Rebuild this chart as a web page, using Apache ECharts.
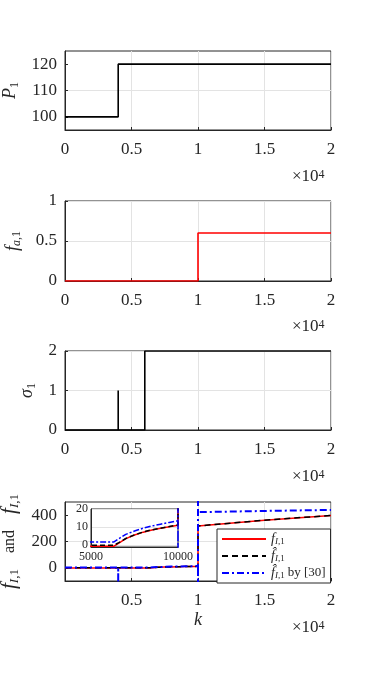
<!DOCTYPE html>
<html>
<head>
<meta charset="utf-8">
<script src="https://cdn.jsdelivr.net/npm/echarts@6/dist/echarts.min.js"></script>
<style>
html,body{margin:0;padding:0;background:#fff;}
#c{width:366px;height:685px;}
</style>
</head>
<body>
<div id="c"></div>
<script>
// ---- data ----
const kP = [0, 4000, 4000, 20000];
const P1 = [100, 100, 120, 120];

const kFa = [0, 10000, 10000, 20000];
const fa1 = [0, 0, 0.6, 0.6];

const kSig = [0, 4000, 4000, 4000, 6000, 6000, 20000];
const sigma1 = [0, 0, 1, 0, 0, 2, 2];

const kF = [0, 6300, 6600, 7000, 7500, 8000, 8500, 9000, 9500, 10000, 10000, 15000, 20000];
const fI1 = [-0.6, -0.6, 1.2, 3.6, 5.6, 7.2, 8.4, 9.3, 10.2, 11.0, 318, 362, 398];
const fhatI1 = [-0.1, -0.1, 1.4, 3.7, 5.7, 7.3, 8.5, 9.4, 10.3, 11.2, 318, 362, 398];

const kB = [0, 4000, 4000, 4000, 6300, 6600, 7000, 7500, 8000, 8500, 9000, 9500, 10000, 10000, 10000, 10000, 15000, 20000];
const fhatI1By30 = [1.7, 1.7, -300, 1.7, 1.7, 3.6, 6.0, 7.8, 9.4, 10.6, 11.6, 12.6, 13.5, -300, 800, 423, 432, 440];

const xTicksMain = [0, 5000, 10000, 15000, 20000];
const xTickLabels = ['0', '0.5', '1', '1.5', '2'];

// ---- helpers ----
const FONT = 'Liberation Serif';
const TXT = '#262626';
const GRIDC = '#e3e3e3';
const NONE = 'rgba(0,0,0,0)';
const pairs = (xs, ys) => xs.map((x, i) => [x, ys[i]]);

const nameRich = {
  it: {fontFamily: FONT, fontStyle: 'italic', fontSize: 18, lineHeight: 20, color: TXT},
  rm: {fontFamily: FONT, fontSize: 17, lineHeight: 20, color: TXT},
  sub: {fontFamily: FONT, fontSize: 12, lineHeight: 10, verticalAlign: 'bottom', color: TXT},
  subi: {fontFamily: FONT, fontStyle: 'italic', fontSize: 12, lineHeight: 10, verticalAlign: 'bottom', color: TXT}
};
const nameRich4 = {
  it: {fontFamily: FONT, fontStyle: 'italic', fontSize: 21, lineHeight: 22, color: TXT},
  rm: {fontFamily: FONT, fontSize: 16, lineHeight: 22, color: TXT},
  sub: {fontFamily: FONT, fontSize: 13, lineHeight: 11, verticalAlign: 'bottom', color: TXT},
  subi: {fontFamily: FONT, fontStyle: 'italic', fontSize: 13, lineHeight: 11, verticalAlign: 'bottom', color: TXT}
};

function xAxisMain(gi, hideZero, name) {
  return {
    gridIndex: gi, type: 'value', min: 0, max: 20000, interval: 5000,
    axisLine: {show: true, onZero: false, lineStyle: {color: TXT, width: 1}},
    axisTick: {show: true, inside: true, length: 3, lineStyle: {color: TXT}},
    axisLabel: {color: TXT, fontFamily: FONT, fontSize: 17, margin: 11,
      formatter: v => { const i = xTicksMain.indexOf(v); if (hideZero && v === 0) return ''; return i >= 0 ? xTickLabels[i] : ''; }},
    splitLine: {show: true, lineStyle: {color: GRIDC, width: 1}},
    name: name || '', nameLocation: 'middle', nameGap: 30,
    nameTextStyle: {fontFamily: FONT, fontStyle: 'italic', fontSize: 18, color: TXT}
  };
}

function yAxisMain(gi, opt) {
  return Object.assign({
    gridIndex: gi, type: 'value',
    axisLine: {show: true, onZero: false, lineStyle: {color: TXT, width: 1}},
    axisTick: {show: true, inside: true, length: 3, lineStyle: {color: TXT}},
    nameLocation: 'middle', nameRotate: 90,
    nameTextStyle: {rich: nameRich}
  }, opt);
}

function sup10(x, y) {
  return {
    type: 'text', x: x, y: y, z: 10,
    style: {
      text: '×10{sup|4}', fill: TXT, fontFamily: FONT, fontSize: 17, verticalAlign: 'middle',
      rich: {sup: {fontFamily: FONT, fontSize: 12, lineHeight: 10, verticalAlign: 'top', fill: TXT}}
    }
  };
}

const legendLabels = {
  'fI1': '{it|f}{subi|I}{sub|,1}',
  'fhatI1': '{it|f\u0302}{subi|I}{sub|,1}',
  'fhatI1by30': '{it|f\u0302}{subi|I}{sub|,1} {rm|by [30]}'
};

const gridBase = {show: true, borderColor: TXT, borderWidth: 1, backgroundColor: '#fff', outerBoundsMode: 'none', containLabel: false};

const option = {
  animation: false,
  backgroundColor: '#fff',
  textStyle: {fontFamily: FONT},
  grid: [
    Object.assign({left: 65, top: 51, width: 266, height: 79}, gridBase),
    Object.assign({left: 65, top: 201, width: 266, height: 80}, gridBase),
    Object.assign({left: 65, top: 351, width: 266, height: 79}, gridBase),
    Object.assign({left: 65, top: 502, width: 266, height: 79}, gridBase),
    Object.assign({left: 91, top: 509, width: 87, height: 38, z: 1}, gridBase)
  ],
  xAxis: [
    xAxisMain(0, false),
    xAxisMain(1, false),
    xAxisMain(2, false),
    xAxisMain(3, true, 'k'),
    {
      gridIndex: 4, type: 'value', min: 5000, max: 10000, interval: 5000, z: 2,
      axisLine: {show: true, onZero: false, lineStyle: {color: TXT}},
      axisTick: {show: false},
      axisLabel: {color: TXT, fontFamily: FONT, fontSize: 12, margin: 4, formatter: v => String(v)},
      splitLine: {show: false}
    }
  ],
  yAxis: [
    yAxisMain(0, {min: 95, max: 125, interval: 5,
      axisTick: {show: true, inside: true, length: 3, lineStyle: {color: TXT}, customValues: [100, 110, 120]},
      axisLabel: {color: TXT, fontFamily: FONT, fontSize: 17, margin: 8, formatter: v => (v % 10 === 0 ? String(v) : '')},
      splitLine: {show: true, lineStyle: {color: [NONE, GRIDC]}},
      name: '{it|P}{sub|1}', nameGap: 40}),
    yAxisMain(1, {min: 0, max: 1, interval: 0.5,
      axisLabel: {color: TXT, fontFamily: FONT, fontSize: 17, margin: 8},
      splitLine: {show: true, lineStyle: {color: GRIDC}},
      name: '{it|f}{subi|a}{sub|,1}', nameGap: 42}),
    yAxisMain(2, {min: 0, max: 2, interval: 1,
      axisLabel: {color: TXT, fontFamily: FONT, fontSize: 17, margin: 8},
      splitLine: {show: true, lineStyle: {color: GRIDC}},
      name: '{it|σ}{sub|1}', nameGap: 20}),
    yAxisMain(3, {min: -100, max: 500, interval: 100,
      axisTick: {show: true, inside: true, length: 3, lineStyle: {color: TXT}, customValues: [0, 200, 400]},
      axisLabel: {color: TXT, fontFamily: FONT, fontSize: 17, margin: 8, formatter: v => (v % 200 === 0 ? String(v) : '')},
      splitLine: {show: true, lineStyle: {color: [NONE, GRIDC]}},
      nameTextStyle: {rich: nameRich4},
      name: '{it|f}{subi|I}{sub|,1}{rm|\u2003and\u2003}{it|f\u0302}{subi|I}{sub|,1}', nameGap: 38}),
    {
      gridIndex: 4, type: 'value', min: -1, max: 20, interval: 1, z: 2,
      axisLine: {show: true, onZero: false, lineStyle: {color: TXT}},
      axisTick: {show: false},
      axisLabel: {color: TXT, fontFamily: FONT, fontSize: 12, margin: 3, formatter: v => (v % 10 === 0 ? String(v) : '')},
      splitLine: {show: true, lineStyle: {color: [NONE, GRIDC, NONE, NONE, NONE, NONE, NONE, NONE, NONE, NONE]}}
    }
  ],
  legend: {
    show: true, orient: 'vertical', left: 217, top: 529,
    data: ['fI1', 'fhatI1', 'fhatI1by30'],
    itemWidth: 44, itemHeight: 13, itemGap: 3, itemStyle: {opacity: 0},
    padding: [3, 5, 3, 4],
    borderColor: TXT, borderWidth: 1, backgroundColor: '#fff',
    formatter: n => legendLabels[n],
    textStyle: {
      fontFamily: FONT, fontSize: 12, color: TXT,
      rich: {
        it: {fontFamily: FONT, fontStyle: 'italic', fontSize: 14, lineHeight: 14, color: TXT},
        rm: {fontFamily: FONT, fontSize: 13, lineHeight: 14, color: TXT},
        sub: {fontFamily: FONT, fontSize: 9, lineHeight: 8, verticalAlign: 'bottom', color: TXT},
        subi: {fontFamily: FONT, fontStyle: 'italic', fontSize: 9, lineHeight: 8, verticalAlign: 'bottom', color: TXT}
      }
    }
  },
  graphic: [sup10(292, 177), sup10(292, 327), sup10(292, 477), sup10(292, 628)],
  series: [
    {type: 'line', xAxisIndex: 0, yAxisIndex: 0, data: pairs(kP, P1), symbol: 'none',
      lineStyle: {color: '#000', width: 1.6}},
    {type: 'line', xAxisIndex: 1, yAxisIndex: 1, data: pairs(kFa, fa1), symbol: 'none',
      lineStyle: {color: '#ff0000', width: 1.6}},
    {type: 'line', xAxisIndex: 2, yAxisIndex: 2, data: pairs(kSig, sigma1), symbol: 'none',
      lineStyle: {color: '#000', width: 1.6}},
    {name: 'fI1', type: 'line', xAxisIndex: 3, yAxisIndex: 3, data: pairs(kF, fI1), symbol: 'none',
      itemStyle: {color: '#ff0000'}, lineStyle: {color: '#ff0000', width: 1.5}},
    {name: 'fhatI1', type: 'line', xAxisIndex: 3, yAxisIndex: 3, data: pairs(kF, fhatI1), symbol: 'none',
      itemStyle: {color: '#000'}, lineStyle: {color: '#000', width: 1.5, type: [6, 4]}},
    {name: 'fhatI1by30', type: 'line', xAxisIndex: 3, yAxisIndex: 3, data: pairs(kB, fhatI1By30), symbol: 'none',
      itemStyle: {color: '#0000ff'}, lineStyle: {color: '#0000ff', width: 2, type: [7, 3, 2, 3]}},
    {name: 'fI1', type: 'line', xAxisIndex: 4, yAxisIndex: 4, data: pairs(kF, fI1), symbol: 'none', z: 3,
      lineStyle: {color: '#ff0000', width: 1.5}},
    {name: 'fhatI1', type: 'line', xAxisIndex: 4, yAxisIndex: 4, data: pairs(kF, fhatI1), symbol: 'none', z: 3,
      lineStyle: {color: '#000', width: 1.5, type: [5, 3]}},
    {name: 'fhatI1by30', type: 'line', xAxisIndex: 4, yAxisIndex: 4, data: pairs(kB, fhatI1By30), symbol: 'none', z: 3,
      lineStyle: {color: '#0000ff', width: 1.5, type: [6, 2, 2, 2]}}
  ]
};

const chart = echarts.init(document.getElementById('c'), null, {renderer: 'canvas'});
chart.setOption(option);
</script>
</body>
</html>
